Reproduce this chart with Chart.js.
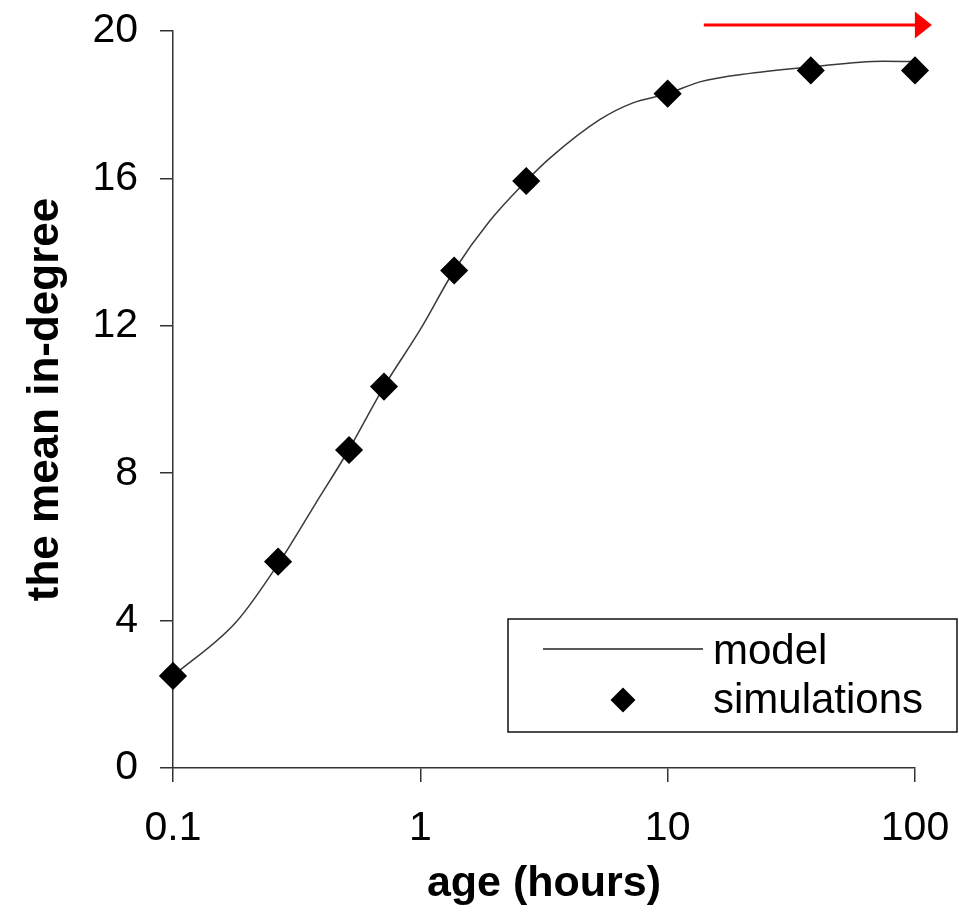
<!DOCTYPE html>
<html>
<head>
<meta charset="utf-8">
<script src="https://cdn.jsdelivr.net/npm/chart.js@4/dist/chart.umd.min.js"></script>
<style>
  html, body { margin: 0; padding: 0; background: #fff; }
  #wrap { width: 959px; height: 916px; }
</style>
</head>
<body>
<div id="wrap"><canvas id="c" width="959" height="916"></canvas></div>
<script>
// ---- data ----
const simAge = [0.1, 0.266, 0.515, 0.713, 1.37, 2.68, 10, 37.9, 100];
const simDegree = [2.5, 5.6, 8.63, 10.35, 13.5, 15.93, 18.3, 18.93, 18.93];

const modelAge = [0.1, 0.18, 0.27, 0.375, 0.515, 0.713, 1.0, 1.37, 1.91, 2.68, 3.34, 5.33, 7.24, 10, 13.5, 21.5, 37.3, 74, 100];
const modelDegree = [2.5, 3.96, 5.6, 7.15, 8.65, 10.35, 11.9, 13.5, 14.85, 15.93, 16.55, 17.6, 18.05, 18.3, 18.62, 18.85, 19.02, 19.18, 19.17];

const xTickValues = [0.1, 1, 10, 100];
const xTickLabels = ['0.1', '1', '10', '100'];

const arrowFrom = [14, 20.16];
const arrowTo = [117, 20.16];

const legendLabels = ['model', 'simulations'];
const xTitle = 'age (hours)';
const yTitle = 'the mean in-degree';

// ---- chart ----
const FONT = '"Liberation Sans", Arial, Helvetica, sans-serif';

const arrowPlugin = {
  id: 'arrowPlugin',
  afterDraw(chart) {
    const ctx = chart.ctx, xs = chart.scales.x, ys = chart.scales.y;
    const x1 = xs.getPixelForValue(arrowFrom[0]);
    const x2 = xs.getPixelForValue(arrowTo[0]);
    const y = ys.getPixelForValue(arrowFrom[1]);
    const headLen = 17, headHalf = 13.5;
    ctx.save();
    ctx.strokeStyle = '#ff0000';
    ctx.fillStyle = '#ff0000';
    ctx.lineWidth = 3;
    ctx.beginPath();
    ctx.moveTo(x1, y);
    ctx.lineTo(x2 - headLen + 1, y);
    ctx.stroke();
    ctx.beginPath();
    ctx.moveTo(x2, y);
    ctx.lineTo(x2 - headLen, y - headHalf);
    ctx.lineTo(x2 - headLen, y + headHalf);
    ctx.closePath();
    ctx.fill();
    ctx.restore();
  }
};

const boxLegendPlugin = {
  id: 'boxLegend',
  afterDraw(chart) {
    const ctx = chart.ctx, a = chart.chartArea;
    const right = a.right + 42, left = right - 449;
    const top = a.bottom - 149, bottom = a.bottom - 36;
    ctx.save();
    ctx.strokeStyle = '#111';
    ctx.lineWidth = 1.5;
    ctx.strokeRect(left, top, right - left, bottom - top);
    // model line
    ctx.strokeStyle = '#222';
    ctx.lineWidth = 1.5;
    ctx.beginPath();
    ctx.moveTo(left + 35, top + 30);
    ctx.lineTo(left + 195, top + 30);
    ctx.stroke();
    // diamond
    const cx = left + 115, cy = top + 81, r = 12.5;
    ctx.fillStyle = '#000';
    ctx.beginPath();
    ctx.moveTo(cx, cy - r);
    ctx.lineTo(cx + r, cy);
    ctx.lineTo(cx, cy + r);
    ctx.lineTo(cx - r, cy);
    ctx.closePath();
    ctx.fill();
    // text
    ctx.fillStyle = '#000';
    ctx.font = '42px ' + FONT;
    ctx.textBaseline = 'alphabetic';
    ctx.textAlign = 'left';
    ctx.fillText(legendLabels[0], left + 205, top + 45);
    ctx.fillText(legendLabels[1], left + 205, top + 94);
    ctx.restore();
  }
};

new Chart(document.getElementById('c'), {
  data: {
    datasets: [
      {
        type: 'line',
        label: legendLabels[0],
        data: modelAge.map((v, i) => ({ x: v, y: modelDegree[i] })),
        borderColor: '#3a3a3a',
        borderWidth: 1.5,
        pointRadius: 0,
        fill: false,
        cubicInterpolationMode: 'monotone',
        clip: false,
        order: 2
      },
      {
        type: 'scatter',
        label: legendLabels[1],
        data: simAge.map((v, i) => ({ x: v, y: simDegree[i] })),
        pointStyle: 'rectRot',
        pointRadius: 13,
        backgroundColor: '#000',
        borderColor: '#000',
        borderWidth: 1.5,
        clip: false,
        order: 1
      }
    ]
  },
  options: {
    responsive: false,
    animation: false,
    events: [],
    layout: { padding: { left: 0, right: 44, top: 31, bottom: 0 } },
    plugins: { legend: { display: false }, tooltip: { enabled: false } },
    scales: {
      x: {
        type: 'logarithmic',
        min: 0.1,
        max: 100,
        afterBuildTicks: s => { s.ticks = xTickValues.map(v => ({ value: v })); },
        afterFit: s => { s.height = 148; s.paddingLeft = 0; s.paddingRight = 0; },
        ticks: {
          autoSkip: false,
          maxRotation: 0,
          color: '#000',
          padding: 22,
          font: { size: 41, family: FONT },
          callback: (v) => { const i = xTickValues.indexOf(v); return i >= 0 ? xTickLabels[i] : ''; }
        },
        grid: { drawOnChartArea: false, drawTicks: true, tickLength: 14, color: '#333', lineWidth: 1.5 },
        border: { display: true, color: '#333', width: 1.5 },
        title: { display: true, text: xTitle, color: '#000', font: { size: 43, weight: 'bold', family: FONT }, padding: { top: 0, bottom: 6 } }
      },
      y: {
        type: 'linear',
        min: 0,
        max: 20,
        afterFit: s => { s.width = 173; s.paddingTop = 0; s.paddingBottom = 0; },
        ticks: { stepSize: 4, color: '#000', padding: 22, font: { size: 41, family: FONT } },
        grid: { drawOnChartArea: false, drawTicks: true, tickLength: 13, color: '#333', lineWidth: 1.5 },
        border: { display: true, color: '#333', width: 1.5 },
        title: { display: true, text: yTitle, color: '#000', font: { size: 44, weight: 'bold', family: FONT }, padding: { top: 19, bottom: 0 } }
      }
    }
  },
  plugins: [arrowPlugin, boxLegendPlugin]
});
</script>
</body>
</html>
